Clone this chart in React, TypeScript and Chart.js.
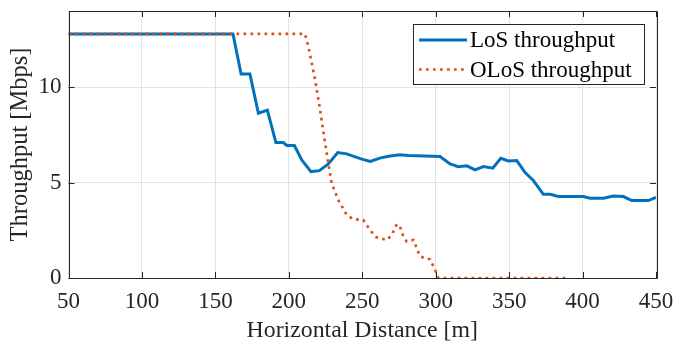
import React, { useEffect, useRef } from "react";
import { Chart, registerables } from "chart.js";

Chart.register(...registerables);

const losX = [50, 162, 167.5, 173.5, 179.3, 185.4, 191.2, 196.3, 198.6, 203.8, 208.8, 215.1, 220.8, 226.9, 233.3, 239.4, 249.7, 255.5, 262.5, 268.9, 275.7, 281.4, 303, 309.8, 315.4, 321.2, 326.8, 332.5, 338.9, 344.3, 349.5, 355.2, 360.9, 366.5, 373.3, 378, 383.5, 400.5, 405.1, 414.2, 421, 427.8, 433.5, 444.8, 450];
const losY = [12.8, 12.8, 10.7, 10.7, 8.64, 8.8, 7.1, 7.1, 6.95, 6.95, 6.19, 5.58, 5.63, 5.98, 6.58, 6.51, 6.23, 6.11, 6.3, 6.4, 6.46, 6.42, 6.37, 5.98, 5.84, 5.88, 5.67, 5.84, 5.76, 6.28, 6.14, 6.16, 5.53, 5.11, 4.39, 4.39, 4.27, 4.27, 4.18, 4.18, 4.3, 4.27, 4.06, 4.06, 4.23];

const olosX = [50, 211, 213.3, 217.9, 221.3, 224.7, 226.9, 229.2, 233.7, 239.4, 243.9, 250.7, 255.3, 259.3, 266.7, 270.1, 273.5, 275.7, 278, 280.3, 284.8, 289.4, 296.2, 299.6, 301.8, 389.3];
const olosY = [12.8, 12.8, 12.14, 10.39, 8.82, 7.07, 6.02, 4.97, 4.09, 3.31, 3.08, 3.04, 2.52, 2.15, 1.99, 2.26, 2.82, 2.69, 2.17, 1.91, 1.99, 1.12, 0.98, 0.42, 0, 0];

const seriesLabels = ["LoS throughput", "OLoS throughput"];
const xTitle = "Horizontal Distance [m]";
const yTitle = "Throughput [Mbps]";

const BLUE = "#0072BD";
const ORANGE = "#D95319";
const AXIS = "#262626";
const FONT = "'Liberation Serif', 'Times New Roman', serif";

const framePlugin = {
  id: "matlabFrame",
  afterDatasetsDraw(chart: any) {
    const { ctx, chartArea } = chart;
    const { left, right, top, bottom } = chartArea;
    ctx.save();
    ctx.strokeStyle = AXIS;
    ctx.lineWidth = 1;
    ctx.beginPath();
    ctx.rect(Math.round(left) + 0.5, Math.round(top) + 0.5, Math.round(right - left), Math.round(bottom - top));
    ctx.stroke();
    const tl = 6;
    const xs = chart.scales.x;
    const ys = chart.scales.y;
    ctx.beginPath();
    xs.ticks.forEach((t: any) => {
      const px = Math.round(xs.getPixelForValue(t.value)) + 0.5;
      ctx.moveTo(px, bottom);
      ctx.lineTo(px, bottom - tl);
      ctx.moveTo(px, top);
      ctx.lineTo(px, top + tl);
    });
    ys.ticks.forEach((t: any) => {
      const py = Math.round(ys.getPixelForValue(t.value)) + 0.5;
      ctx.moveTo(left, py);
      ctx.lineTo(left + tl, py);
      ctx.moveTo(right, py);
      ctx.lineTo(right - tl, py);
    });
    ctx.stroke();

    // legend
    const bx = 413.5, by = 24.5, bw = 231, bh = 60;
    ctx.fillStyle = "#ffffff";
    ctx.fillRect(bx, by, bw, bh);
    ctx.strokeStyle = AXIS;
    ctx.lineWidth = 1;
    ctx.strokeRect(bx, by, bw, bh);
    const rows = [40, 69.5];
    ctx.lineWidth = 3;
    ctx.strokeStyle = BLUE;
    ctx.setLineDash([]);
    ctx.beginPath();
    ctx.moveTo(419, rows[0]);
    ctx.lineTo(467, rows[0]);
    ctx.stroke();
    ctx.strokeStyle = ORANGE;
    ctx.lineWidth = 2.7;
    ctx.setLineDash([2.7, 4.3]);
    ctx.beginPath();
    ctx.moveTo(419, rows[1]);
    ctx.lineTo(467, rows[1]);
    ctx.stroke();
    ctx.setLineDash([]);
    ctx.fillStyle = "#000000";
    ctx.font = `23px ${FONT}`;
    ctx.textBaseline = "middle";
    ctx.textAlign = "left";
    ctx.fillText(seriesLabels[0], 470, rows[0] + 1);
    ctx.fillText(seriesLabels[1], 470, rows[1] + 1);
    ctx.restore();
  },
};

const zeroPad = (s: any) => {
  s.paddingTop = 0;
  s.paddingBottom = 0;
  s.paddingLeft = 0;
  s.paddingRight = 0;
};

export default function App() {
  const ref = useRef<HTMLCanvasElement | null>(null);
  useEffect(() => {
    if (!ref.current) return;
    const chart = new Chart(ref.current, {
      type: "line",
      data: {
        datasets: [
          {
            label: seriesLabels[0],
            data: losX.map((x, i) => ({ x, y: losY[i] })),
            borderColor: BLUE,
            backgroundColor: BLUE,
            borderWidth: 3,
            pointRadius: 0,
            tension: 0,
            order: 1,
          },
          {
            label: seriesLabels[1],
            data: olosX.map((x, i) => ({ x, y: olosY[i] })),
            borderColor: ORANGE,
            backgroundColor: ORANGE,
            borderWidth: 2.7,
            borderDash: [2.7, 4.3],
            borderCapStyle: "butt",
            pointRadius: 0,
            tension: 0,
            order: 0,
          },
        ],
      },
      options: {
        animation: false,
        responsive: false,
        maintainAspectRatio: false,
        layout: { padding: { left: 0, top: 11, right: 19, bottom: 0 } },
        plugins: { legend: { display: false }, tooltip: { enabled: false } },
        scales: {
          x: {
            type: "linear",
            min: 50,
            max: 450,
            border: { display: false },
            grid: { color: "#e3e3e3", drawTicks: false, lineWidth: 1 },
            ticks: {
              stepSize: 50,
              includeBounds: false,
              padding: 10,
              color: AXIS,
              font: { family: FONT, size: 23 },
              maxRotation: 0,
              autoSkip: false,
            },
            title: {
              display: true,
              text: xTitle,
              color: AXIS,
              font: { family: FONT, size: 23.8, lineHeight: 1 },
              padding: { top: 0, bottom: 0 },
            },
            afterFit: (s: any) => {
              s.height = 65;
              zeroPad(s);
            },
          },
          y: {
            type: "linear",
            min: 0,
            max: 14,
            border: { display: false },
            grid: { color: "#e3e3e3", drawTicks: false, lineWidth: 1 },
            ticks: {
              stepSize: 5,
              includeBounds: false,
              padding: 7,
              color: AXIS,
              font: { family: FONT, size: 23 },
            },
            title: {
              display: true,
              text: yTitle,
              color: AXIS,
              font: { family: FONT, size: 24.5, lineHeight: 1.2 },
              padding: { top: 6.3, bottom: 0 },
            },
            afterFit: (s: any) => {
              s.width = 68.5;
              zeroPad(s);
            },
          },
        },
      },
      plugins: [framePlugin],
    });
    return () => chart.destroy();
  }, []);
  return (
    <div style={{ position: "absolute", left: 0, top: 0, width: 675, height: 343, background: "#fff" }}>
      <canvas ref={ref} width={675} height={343} style={{ display: "block", width: 675, height: 343 }} />
    </div>
  );
}
